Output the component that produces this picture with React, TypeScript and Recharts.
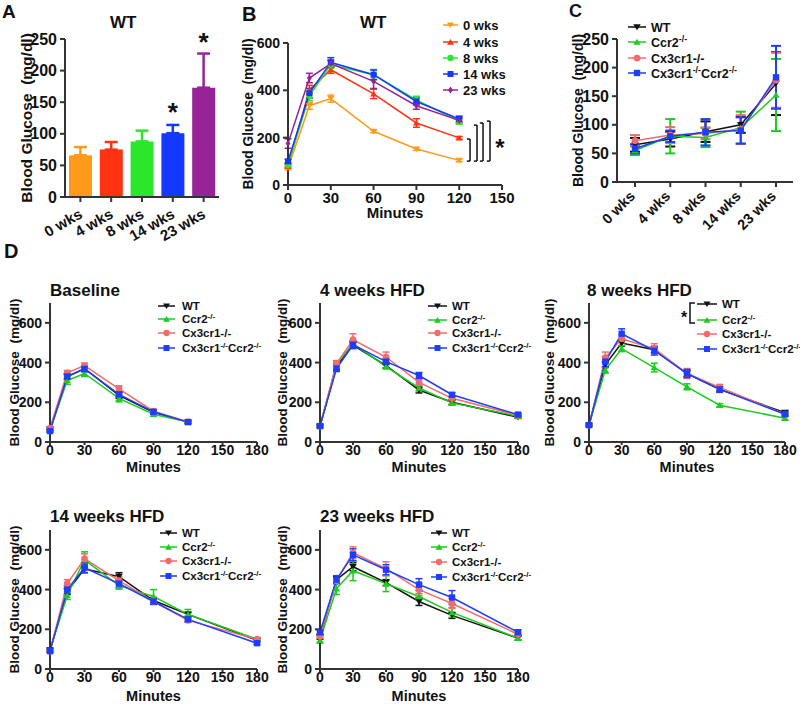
import React from 'react';
import {
  ComposedChart, LineChart, Line, Bar, Cell, XAxis, YAxis, ErrorBar, ReferenceDot, ReferenceLine,
} from 'recharts';

const FONT = '"Liberation Sans", Arial, Helvetica, sans-serif';
const INK = '#111111';
const AXIS = '#333333';

// A: fasting glucose in WT mice
const weekLabels = ['0 wks', '4 wks', '8 wks', '14 wks', '23 wks'];
const fastingWT = [66, 75, 88, 101, 173];
const fastingWTErr = [13, 12, 17, 13, 54];
const weekColors = ['#FF9A1A', '#FF3311', '#2CE62C', '#1538FF', '#972497'];
const weekShapes = ['down', 'up', 'circle', 'square', 'diamond'];
const starsA = [{ week: '14 wks', y: 135 }, { week: '23 wks', y: 245 }];

// B: GTT in WT mice by weeks on HFD
const minutesB = [0, 15, 30, 60, 90, 120];
const gttWT = [
  [72, 335, 365, 227, 152, 104],
  [80, 403, 487, 385, 262, 199],
  [85, 377, 508, 466, 360, 269],
  [100, 388, 518, 466, 353, 279],
  [175, 452, 513, 438, 335, 273],
];
const gttWTErr = [
  [8, 15, 15, 6, 6, 6],
  [8, 18, 15, 20, 18, 6],
  [8, 20, 15, 22, 15, 12],
  [8, 20, 20, 20, 15, 12],
  [20, 20, 15, 30, 15, 10],
];
const bracketX = [127.6, 132.5, 136.7, 141.6];
const bracketTop = [194, 253, 262, 270];
const bracketBase = 101;
const starB = { x: 148.6, y: 160 };

// genotypes
type Part = { t: string; sup?: boolean };
const genotypeKeys = ['wt', 'ccr2', 'cx3', 'dko'];
const genotypeColors = ['#111111', '#1DCC1D', '#F46B6B', '#1E3EFF'];
const genotypeShapes = ['down', 'up', 'circle', 'square'];
const genotypeLabels: Part[][] = [
  [{ t: 'WT' }],
  [{ t: 'Ccr2' }, { t: '-/-', sup: true }],
  [{ t: 'Cx3cr1-/-' }],
  [{ t: 'Cx3cr1' }, { t: '-/-', sup: true }, { t: 'Ccr2' }, { t: '-/-', sup: true }],
];

// C: fasting glucose by genotype
const fastingMean = [
  [65, 75, 88, 100, 172],
  [55, 80, 78, 95, 152],
  [72, 82, 85, 92, 178],
  [58, 80, 87, 90, 183],
];
const fastingErr = [
  [12, 13, 18, 14, 55],
  [8, 30, 17, 28, 63],
  [10, 14, 10, 25, 48],
  [8, 10, 23, 23, 55],
];

// D: GTT by genotype
const minutesBaseline = [0, 15, 30, 60, 90, 120];
const minutesD = [0, 15, 30, 60, 90, 120, 180];
const baselineMean = [
  [65, 330, 370, 235, 150, 100],
  [60, 310, 345, 220, 140, 100],
  [70, 348, 385, 268, 155, 102],
  [55, 330, 368, 240, 152, 100],
];
const baselineErr = [
  [8, 15, 12, 15, 10, 6],
  [6, 20, 15, 18, 10, 6],
  [6, 12, 12, 15, 8, 6],
  [6, 12, 15, 12, 10, 6],
];
const hfd4Mean = [
  [80, 380, 488, 385, 262, 200, 125],
  [80, 395, 495, 380, 272, 197, 130],
  [80, 395, 515, 428, 300, 220, 135],
  [80, 370, 490, 405, 335, 238, 138],
];
const hfd4Err = [
  [5, 15, 15, 12, 15, 10, 6],
  [5, 15, 15, 12, 15, 12, 6],
  [5, 12, 30, 25, 15, 10, 8],
  [5, 15, 20, 15, 15, 10, 8],
];
const hfd8Mean = [
  [85, 390, 498, 465, 345, 265, 148],
  [85, 362, 470, 375, 278, 185, 120],
  [85, 425, 520, 470, 345, 275, 140],
  [85, 405, 545, 460, 345, 265, 140],
];
const hfd8Err = [
  [5, 15, 15, 15, 15, 10, 8],
  [5, 15, 15, 22, 15, 8, 8],
  [5, 28, 20, 25, 25, 15, 8],
  [5, 25, 25, 22, 20, 15, 8],
];
const hfd14Mean = [
  [95, 390, 505, 465, 345, 275, 145],
  [95, 370, 550, 420, 365, 275, 150],
  [90, 430, 555, 445, 340, 245, 150],
  [90, 400, 510, 430, 340, 250, 130],
];
const hfd14Err = [
  [8, 15, 20, 20, 15, 10, 6],
  [8, 20, 40, 18, 35, 25, 6],
  [6, 20, 25, 20, 12, 10, 6],
  [6, 20, 25, 20, 15, 12, 6],
];
const hfd23Mean = [
  [160, 450, 515, 435, 340, 270, 155],
  [145, 405, 495, 430, 365, 285, 155],
  [165, 445, 585, 505, 400, 330, 175],
  [185, 450, 575, 500, 425, 360, 185],
];
const hfd23Err = [
  [10, 15, 20, 15, 20, 15, 10],
  [15, 30, 50, 40, 15, 25, 10],
  [10, 15, 30, 35, 30, 25, 10],
  [10, 20, 30, 25, 30, 35, 12],
];

type Series = { key: string; color: string; shape: string; values: number[]; errors: number[] };

const makeSeries = (keys: string[], colors: string[], shapes: string[], means: number[][], errs: number[][]): Series[] =>
  keys.map((k, i) => ({ key: k, color: colors[i], shape: shapes[i], values: means[i], errors: errs[i] }));

const makeRows = (xs: (number | string)[], series: Series[]) =>
  xs.map((x, i) => {
    const row: any = { x };
    series.forEach((s) => {
      row[s.key] = s.values[i];
      row[s.key + 'Err'] = s.errors[i];
    });
    return row;
  });

function Marker({ shape, cx, cy, size, color }: any) {
  if (cx == null || cy == null || Number.isNaN(cx) || Number.isNaN(cy)) return <g />;
  const r = size / 2;
  if (shape === 'down')
    return <path d={`M${cx - r},${cy - r * 0.75}L${cx + r},${cy - r * 0.75}L${cx},${cy + r * 0.85}Z`} fill={color} />;
  if (shape === 'up')
    return <path d={`M${cx - r},${cy + r * 0.75}L${cx + r},${cy + r * 0.75}L${cx},${cy - r * 0.85}Z`} fill={color} />;
  if (shape === 'circle') return <circle cx={cx} cy={cy} r={r * 0.9} fill={color} />;
  if (shape === 'square')
    return <rect x={cx - r * 0.85} y={cy - r * 0.85} width={r * 1.7} height={r * 1.7} fill={color} />;
  return <path d={`M${cx},${cy - r}L${cx + r * 0.7},${cy}L${cx},${cy + r}L${cx - r * 0.7},${cy}Z`} fill={color} />;
}

function AngledTick({ x, y, payload, angle, dx, dy, fontSize }: any) {
  const tx = x + dx;
  const ty = y + dy;
  return (
    <text x={tx} y={ty} transform={`rotate(${angle}, ${tx}, ${ty})`} textAnchor="end"
      fontSize={fontSize} fontWeight="bold" fontFamily={FONT} fill={INK}>
      {payload.value}
    </text>
  );
}

function RichText({ parts, x, y, fs }: { parts: Part[]; x: number; y: number; fs: number }) {
  let up = false;
  return (
    <text x={x} y={y} fontSize={fs} fontWeight="bold" fontFamily={FONT} fill={INK}>
      {parts.map((p, i) => {
        let dy = 0;
        if (p.sup && !up) { dy = -fs * 0.4; up = true; }
        else if (!p.sup && up) { dy = fs * 0.4; up = false; }
        return <tspan key={i} dy={dy || undefined} fontSize={p.sup ? fs * 0.7 : fs}>{p.t}</tspan>;
      })}
    </text>
  );
}

function LegendRows({ x0, x1, tx, ys, fs, colors, shapes, labels, marker }: any) {
  return (
    <g>
      {labels.map((lab: Part[], i: number) => (
        <g key={i}>
          <line x1={x0} x2={x1} y1={ys[i]} y2={ys[i]} stroke={colors[i]} strokeWidth={1.5} />
          <Marker shape={shapes[i]} cx={(x0 + x1) / 2} cy={ys[i]} size={marker} color={colors[i]} />
          <RichText parts={lab} x={tx} y={ys[i] + fs * 0.36} fs={fs} />
        </g>
      ))}
    </g>
  );
}

const axisLine = { stroke: AXIS, strokeWidth: 2 };
const labelStyle = (fs: number) => ({ textAnchor: 'middle' as const, fontSize: fs, fontWeight: 'bold', fill: INK, fontFamily: FONT });
const tickStyle = (fs: number) => ({ fill: INK, fontSize: fs, fontWeight: 'bold', fontFamily: FONT });

function CurvePanel(p: any) {
  const data = makeRows(p.xs, p.series);
  return (
    <div style={{ position: 'absolute', left: p.left, top: p.top }}>
      <LineChart width={p.width} height={p.height} data={data} margin={p.margin}>
        <XAxis
          dataKey="x"
          type={p.category ? 'category' : 'number'}
          domain={p.xDomain}
          ticks={p.xTicks}
          interval={0}
          height={p.xHeight}
          padding={p.xPad}
          axisLine={axisLine}
          tickLine={axisLine}
          tickSize={p.xTickLen ?? 5}
          tickMargin={p.xTickMargin ?? 2}
          tick={p.angle
            ? (t: any) => <AngledTick {...t} angle={p.angle} dx={p.tickDx} dy={p.tickDy} fontSize={p.xTickSize} />
            : tickStyle(p.xTickSize)}
          label={p.xLabel ? { value: p.xLabel, position: 'insideBottom', offset: 0, style: labelStyle(p.xLabelSize) } : undefined}
        />
        <YAxis
          width={p.yWidth}
          domain={p.yDomain}
          ticks={p.yTicks}
          interval={0}
          axisLine={axisLine}
          tickLine={axisLine}
          tickSize={5}
          tickMargin={3}
          tick={tickStyle(p.yTickSize)}
          label={{ value: 'Blood Glucose\u00A0 (mg/dl)', angle: -90, position: 'insideLeft', offset: p.labelOffset, style: labelStyle(p.labelSize) }}
        />
        {p.series.map((s: Series) => (
          <Line
            key={s.key}
            dataKey={s.key}
            stroke={s.color}
            strokeWidth={1.5}
            isAnimationActive={false}
            activeDot={false}
            dot={(d: any) => <Marker key={`${s.key}-${d.index}`} shape={s.shape} cx={d.cx} cy={d.cy} size={p.marker} color={s.color} />}
          >
            <ErrorBar dataKey={s.key + 'Err'} width={p.cap} stroke={s.color} strokeWidth={p.errWidth} direction="y" isAnimationActive={false} />
          </Line>
        ))}
        {p.children}
      </LineChart>
    </div>
  );
}

function PanelA() {
  const data = weekLabels.map((w, i) => {
    const row: any = { week: w, glucose: fastingWT[i] };
    row['only' + i] = fastingWT[i];
    row['err' + i] = [0, fastingWTErr[i]];
    return row;
  });
  return (
    <div style={{ position: 'absolute', left: 0, top: 0 }}>
      <ComposedChart width={230} height={265} data={data} margin={{ top: 39, right: 11, bottom: 0, left: 10 }}>
        <XAxis
          dataKey="week"
          interval={0}
          height={68}
          axisLine={axisLine}
          tickLine={axisLine}
          tickSize={5}
          tick={(t: any) => <AngledTick {...t} angle={-30} dx={3} dy={13} fontSize={15} />}
        />
        <YAxis
          width={55}
          domain={[0, 250]}
          ticks={[0, 50, 100, 150, 200, 250]}
          interval={0}
          axisLine={axisLine}
          tickLine={axisLine}
          tickSize={5}
          tickMargin={3}
          tick={tickStyle(16)}
          label={{ value: 'Blood Glucose\u00A0 (mg/dl)', angle: -90, position: 'insideLeft', offset: 16, style: labelStyle(15.5) }}
        />
        <Bar dataKey="glucose" barSize={23} isAnimationActive={false}>
          {weekColors.map((c, i) => <Cell key={i} fill={c} />)}
        </Bar>
        {weekColors.map((c, i) => (
          <Line key={i} dataKey={'only' + i} stroke="none" dot={false} activeDot={false} isAnimationActive={false}>
            <ErrorBar dataKey={'err' + i} width={6.5} stroke={c} strokeWidth={2.5} direction="y" isAnimationActive={false} />
          </Line>
        ))}
        {starsA.map((s) => (
          <ReferenceDot key={s.week} x={s.week} y={s.y} r={0} fill="none" stroke="none"
            label={{ value: '*', position: 'center', fill: INK, fontSize: 26, fontWeight: 'bold', fontFamily: FONT }} />
        ))}
      </ComposedChart>
    </div>
  );
}

export default function App() {
  const seriesB = makeSeries(weekLabels, weekColors, weekShapes, gttWT, gttWTErr);
  const seriesC = makeSeries(genotypeKeys, genotypeColors, genotypeShapes, fastingMean, fastingErr);
  const gt = (m: number[][], e: number[][]) => makeSeries(genotypeKeys, genotypeColors, genotypeShapes, m, e);
  const dCommon = {
    xDomain: [0, 180], xTicks: [0, 30, 60, 90, 120, 150, 180], yDomain: [0, 700], yTicks: [0, 200, 400, 600],
    xTickSize: 14, yTickSize: 14, labelSize: 13.5, labelOffset: 14, xLabel: 'Minutes', xLabelSize: 14.5,
    marker: 7.5, cap: 3.5, errWidth: 1.5, xTickLen: 3, xTickMargin: 0,
  };
  const dTop = { top: 270, height: 210, xHeight: 30 };
  const dBottom = { top: 490, height: 215, xHeight: 32 };

  return (
    <div style={{ position: 'relative', width: 800, height: 705, background: '#fff', overflow: 'hidden', fontFamily: FONT }}>
      <style>{'body{margin:0}'}</style>
      <PanelA />
      <CurvePanel
        left={230} top={0} width={290} height={235}
        margin={{ top: 43, right: 18, bottom: 17, left: 4 }}
        yWidth={54} xHeight={33} labelOffset={14} labelSize={13.8}
        xs={minutesB} series={seriesB}
        xDomain={[0, 150]} xTicks={[0, 30, 60, 90, 120, 150]}
        yDomain={[0, 600]} yTicks={[0, 200, 400, 600]}
        xTickSize={15} yTickSize={14} xLabel="Minutes" xLabelSize={15}
        marker={7} cap={3.5} errWidth={1.5}
      >
        {bracketX.map((bx, i) => [
          <ReferenceLine key={`v${i}`} segment={[{ x: bx, y: bracketBase }, { x: bx, y: bracketTop[i] }]} stroke={INK} strokeWidth={1.5} />,
          <ReferenceLine key={`t${i}`} segment={[{ x: bx - 2.2, y: bracketTop[i] }, { x: bx, y: bracketTop[i] }]} stroke={INK} strokeWidth={1.5} />,
          <ReferenceLine key={`b${i}`} segment={[{ x: bx - 2.2, y: bracketBase }, { x: bx, y: bracketBase }]} stroke={INK} strokeWidth={1.5} />,
        ])}
        <ReferenceDot x={starB.x} y={starB.y} r={0} fill="none" stroke="none"
          label={{ value: '*', position: 'center', fill: INK, fontSize: 24, fontWeight: 'bold', fontFamily: FONT }} />
      </CurvePanel>
      <CurvePanel
        left={520} top={0} width={280} height={265}
        margin={{ top: 39, right: 7, bottom: 0, left: 40 }}
        yWidth={57} xHeight={83} labelOffset={18} labelSize={14}
        xs={weekLabels} series={seriesC} category xPad={{ left: 18, right: 17 }}
        yDomain={[0, 250]} yTicks={[0, 50, 100, 150, 200, 250]}
        xTickSize={14.5} yTickSize={16} angle={-45} tickDx={1} tickDy={8}
        marker={7.5} cap={5} errWidth={2}
      />
      <CurvePanel {...dCommon} {...dTop} left={0} width={276} margin={{ top: 33, right: 19, bottom: 8, left: 0 }} yWidth={50}
        xs={minutesBaseline} series={gt(baselineMean, baselineErr)} />
      <CurvePanel {...dCommon} {...dTop} left={265} width={270} margin={{ top: 33, right: 17, bottom: 8, left: 3 }} yWidth={52}
        xs={minutesD} series={gt(hfd4Mean, hfd4Err)} />
      <CurvePanel {...dCommon} {...dTop} left={530} width={270} margin={{ top: 33, right: 15, bottom: 8, left: 5 }} yWidth={54}
        xs={minutesD} series={gt(hfd8Mean, hfd8Err)} />
      <CurvePanel {...dCommon} {...dBottom} left={0} width={276} margin={{ top: 40, right: 19, bottom: 4, left: 0 }} yWidth={50}
        xs={minutesD} series={gt(hfd14Mean, hfd14Err)} />
      <CurvePanel {...dCommon} {...dBottom} left={265} width={270} margin={{ top: 40, right: 17, bottom: 4, left: 3 }} yWidth={52}
        xs={minutesD} series={gt(hfd23Mean, hfd23Err)} />

      <svg width={800} height={705} style={{ position: 'absolute', left: 0, top: 0, pointerEvents: 'none' }}>
        <g fontFamily={FONT} fontWeight="bold" fill={INK}>
          <text x={2} y={18} fontSize={19}>A</text>
          <text x={242} y={21} fontSize={20}>B</text>
          <text x={569} y={17} fontSize={18}>C</text>
          <text x={4} y={258} fontSize={20}>D</text>
          <text x={110} y={28} fontSize={17}>WT</text>
          <text x={360} y={28} fontSize={17}>WT</text>
          <text x={50} y={296} fontSize={17}>Baseline</text>
          <text x={320} y={296} fontSize={17}>4 weeks HFD</text>
          <text x={587} y={296} fontSize={17}>8 weeks HFD</text>
          <text x={50} y={522} fontSize={17}>14 weeks HFD</text>
          <text x={320} y={522} fontSize={17}>23 weeks HFD</text>
          <text x={681} y={323} fontSize={16}>*</text>
        </g>
        <path d="M695,303 L690,303 L690,323 L695,323" stroke={INK} strokeWidth={1.5} fill="none" />
        <LegendRows x0={443} x1={458} tx={463} ys={[25, 42, 58, 74, 90]} fs={13}
          colors={weekColors} shapes={weekShapes} labels={weekLabels.map((w) => [{ t: w }])} marker={7} />
        <LegendRows x0={628} x1={646} tx={651} ys={[27, 42, 58, 73]} fs={12.5}
          colors={genotypeColors} shapes={genotypeShapes} labels={genotypeLabels} marker={7.5} />
        <LegendRows x0={158} x1={175} tx={182} ys={[306, 319, 333, 348]} fs={11.5}
          colors={genotypeColors} shapes={genotypeShapes} labels={genotypeLabels} marker={7} />
        <LegendRows x0={428} x1={447} tx={452} ys={[306, 320, 333, 348]} fs={11.5}
          colors={genotypeColors} shapes={genotypeShapes} labels={genotypeLabels} marker={7} />
        <LegendRows x0={697} x1={717} tx={722} ys={[304, 320, 334, 349]} fs={11.5}
          colors={genotypeColors} shapes={genotypeShapes} labels={genotypeLabels} marker={7} />
        <LegendRows x0={160} x1={177} tx={182} ys={[533, 547, 561, 576]} fs={11.5}
          colors={genotypeColors} shapes={genotypeShapes} labels={genotypeLabels} marker={7} />
        <LegendRows x0={431} x1={447} tx={452} ys={[533, 547, 562, 577]} fs={11.5}
          colors={genotypeColors} shapes={genotypeShapes} labels={genotypeLabels} marker={7} />
      </svg>
    </div>
  );
}
